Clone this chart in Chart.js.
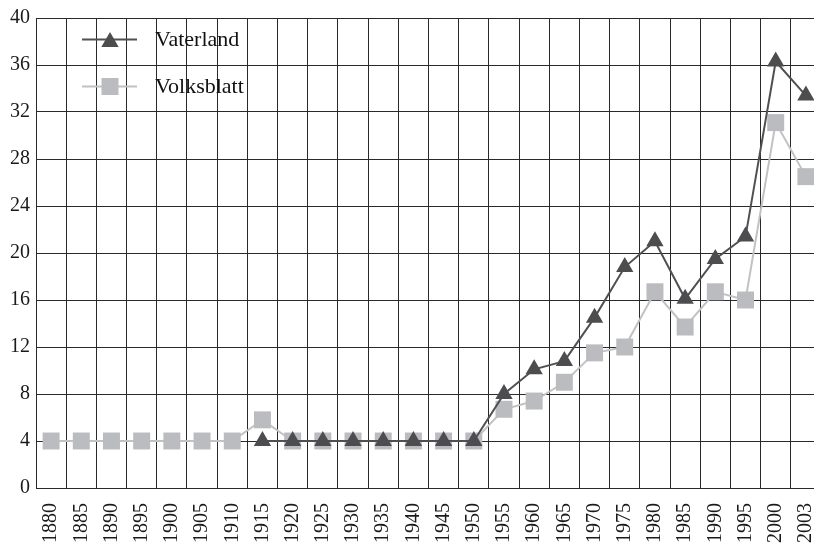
<!DOCTYPE html>
<html>
<head>
<meta charset="utf-8">
<script src="https://cdn.jsdelivr.net/npm/chart.js@4/dist/chart.umd.min.js"></script>
<style>
  html, body { margin: 0; padding: 0; background: #fff; overflow: hidden; }
  .wrap { width: 822px; height: 549px; }
</style>
</head>
<body>
<div class="wrap"><canvas id="myChart" width="822" height="549"></canvas></div>
<script>
const years = ["1880", "1885", "1890", "1895", "1900", "1905", "1910", "1915", "1920", "1925", "1930", "1935", "1940",
  "1945", "1950", "1955", "1960", "1965", "1970", "1975", "1980", "1985", "1990", "1995", "2000", "2003"];
const vaterland = [null, null, null, null, null, null, null, 4, 4, 4, 4, 4, 4, 4, 4,
  8.0, 10.1, 10.8, 14.5, 18.8, 21.0, 16.1, 19.5, 21.4, 36.3, 33.4];
const volksblatt = [4, 4, 4, 4, 4, 4, 4, 5.8, 4, 4, 4, 4, 4, 4, 4,
  6.7, 7.4, 9.0, 11.5, 12.0, 16.7, 13.7, 16.7, 16.0, 31.1, 26.5];
const yTicks = [0, 4, 8, 12, 16, 20, 24, 28, 32, 36, 40];

const ctx = document.getElementById("myChart").getContext("2d");
const serif = "'Liberation Serif', 'DejaVu Serif', serif";

// legend drawn inside the plot, top left, like the original
const insideLegend = {
  id: "insideLegend",
  afterDatasetsDraw(chart) {
    const c = chart.ctx;
    chart.data.datasets.forEach((ds, i) => {
      const y = 39.5 + i * 47;
      const x = 110;
      c.save();
      c.strokeStyle = ds.borderColor;
      c.lineWidth = 2;
      c.beginPath();
      c.moveTo(82, y);
      c.lineTo(137, y);
      c.stroke();
      c.fillStyle = ds.pointBackgroundColor;
      c.beginPath();
      if (ds.pointStyle === "triangle") {
        c.moveTo(x, y - 7.5);
        c.lineTo(x + 8.7, y + 7.5);
        c.lineTo(x - 8.7, y + 7.5);
        c.closePath();
      } else {
        c.rect(x - 8.5, y - 8.5, 17, 17);
      }
      c.fill();
      c.fillStyle = "#111";
      c.font = "22px " + serif;
      c.textBaseline = "middle";
      c.fillText(ds.label, 155, y + 1);
      c.restore();
    });
  },
};

new Chart(ctx, {
  type: "line",
  data: {
    labels: years,
    datasets: [
      {
        label: "Vaterland",
        data: vaterland,
        borderColor: "#505052",
        pointBackgroundColor: "#4d4d4f",
        pointBorderWidth: 0,
        pointStyle: "triangle",
        pointRadius: 10,
        pointHoverRadius: 10,
        borderWidth: 2,
        tension: 0,
        spanGaps: false,
      },
      {
        label: "Volksblatt",
        data: volksblatt,
        borderColor: "#c2c2c5",
        pointBackgroundColor: "#bbbcc0",
        pointBorderWidth: 0,
        pointStyle: "rect",
        pointRadius: 12,
        pointHoverRadius: 12,
        borderWidth: 2,
        tension: 0,
      },
    ],
  },
  options: {
    responsive: false,
    animation: false,
    layout: { autoPadding: false, padding: { top: 15, right: 1, left: 0, bottom: 0 } },
    plugins: { legend: { display: false }, tooltip: { enabled: false } },
    scales: {
      x: {
        type: "category",
        offset: true,
        grid: { offset: true, color: "#2a2a2a", lineWidth: 1, drawTicks: false },
        border: { color: "#2a2a2a", width: 1 },
        ticks: {
          minRotation: 90,
          maxRotation: 90,
          autoSkip: false,
          padding: 15,
          color: "#1a1a1a",
          font: { family: serif, size: 20 },
        },
        afterFit(scale) {
          scale.height = 61;
          scale.paddingLeft = 0;
          scale.paddingRight = 0;
        },
      },
      y: {
        min: 0,
        max: 40,
        afterBuildTicks(scale) {
          scale.ticks = yTicks.map((v) => ({ value: v }));
        },
        grid: { color: "#2a2a2a", lineWidth: 1, drawTicks: false },
        border: { color: "#2a2a2a", width: 1 },
        ticks: {
          padding: 6,
          color: "#1a1a1a",
          font: { family: serif, size: 20 },
        },
        afterFit(scale) {
          scale.width = 36;
        },
      },
    },
  },
  plugins: [insideLegend],
});
</script>
</body>
</html>
